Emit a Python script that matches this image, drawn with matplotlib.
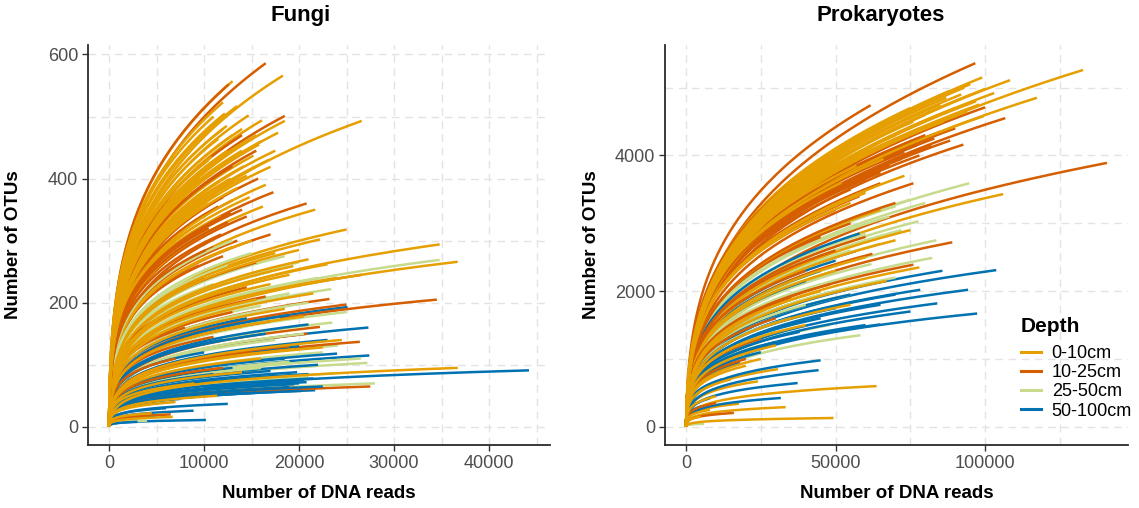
import matplotlib

matplotlib.use("Agg")
import matplotlib.pyplot as plt
import numpy as np
from matplotlib.lines import Line2D

plt.rcParams["font.family"] = ["Liberation Sans", "DejaVu Sans"]

DEPTHS = ["0-10cm", "10-25cm", "25-50cm", "50-100cm"]
COLORS = ["#E69F00", "#D55E00", "#C7DB8D", "#0072B2"]

# Fungi: end point of every rarefaction curve (reads, OTUs), read per depth
fungi_0_10_reads = [18300, 13000, 14700, 18500, 26600, 16100, 17800, 15200, 17000, 16200,
                    21700, 25000, 22200, 34800, 36700, 19400, 12000, 13500, 11500, 14000,
                    15500, 12500, 13800, 14200, 16800, 11000, 12800, 13500, 14800, 10500,
                    11800, 16500, 15000, 13000, 17500, 20000, 21000, 23000, 19000, 24000,
                    17000, 21500, 15500, 18500, 20500, 24500, 22500, 19500, 16000, 11400,
                    6700, 4500, 36700, 9000, 14000, 7000, 12200, 15800, 10800, 13200,
                    11200, 9800, 14500, 12400, 11000, 12000, 13000, 14000, 10500, 9500,
                    16000, 17500]
fungi_0_10_otus = [566, 557, 502, 493, 493, 494, 474, 437, 419, 355,
                   350, 318, 302, 294, 266, 259, 523, 517, 464, 480,
                   470, 445, 455, 420, 430, 410, 400, 385, 370, 360,
                   340, 390, 300, 290, 280, 285, 270, 262, 245, 240,
                   230, 215, 205, 190, 178, 140, 128, 125, 110, 50,
                   16, 22, 95, 70, 88, 40, 505, 455, 435, 395,
                   375, 330, 405, 485, 500, 480, 470, 445, 430, 400,
                   460, 445]
fungi_10_25_reads = [16500, 12600, 18500, 15700, 17300, 20800, 14500, 17000, 26600, 34500,
                     23200, 25000, 22200, 20900, 26400, 27500, 12000, 13000, 11500, 14000,
                     12500, 10500, 13500, 11000, 12000, 15500, 9500, 10000, 14500, 16500,
                     9000, 13000, 17000, 8000, 11000, 19000, 15000, 7000, 12000, 19800,
                     6500, 15500, 14000, 13000, 11800, 10200, 12800]
fungi_10_25_otus = [586, 552, 501, 400, 378, 360, 339, 310, 245, 205,
                    206, 197, 161, 150, 137, 65, 370, 365, 355, 350,
                    330, 320, 300, 290, 275, 265, 260, 240, 225, 210,
                    200, 185, 170, 160, 145, 130, 120, 110, 95, 63,
                    20, 445, 470, 420, 310, 285, 345]
fungi_25_50_reads = [34800, 18500, 23400, 24100, 27200, 23600, 20000, 17000, 22000, 15000,
                     19000, 21000, 16000, 25000, 18000, 23500, 14000, 20500, 17500, 22500,
                     12000, 19000, 26500, 16000, 21000, 13500, 10000, 28000, 8000, 6000,
                     4000, 12500, 11000, 13000, 15000]
fungi_25_50_otus = [269, 275, 222, 131, 103, 86, 265, 250, 240, 235,
                    215, 200, 195, 185, 175, 168, 160, 150, 140, 120,
                    115, 105, 110, 95, 80, 75, 65, 70, 50, 20,
                    10, 260, 230, 300, 280]
fungi_50_100_reads = [25100, 27300, 27400, 44200, 21700, 12500, 10200, 8900, 20000, 20500,
                      19500, 18000, 17500, 16000, 19000, 21000, 15000, 14000, 17000, 22000,
                      24000, 18500, 13000, 20000, 23000, 16500, 21000, 14500, 19000, 12000,
                      10000, 11000, 9000, 7500, 6000, 3000, 5000, 20800, 19000, 18200,
                      21500, 16500, 20300, 15500, 22500, 17800, 19800]
fungi_50_100_otus = [193, 160, 115, 91, 59, 37, 11, 26, 70, 75,
                     68, 66, 62, 60, 80, 85, 72, 57, 90, 100,
                     118, 110, 95, 130, 140, 150, 165, 175, 180, 140,
                     120, 85, 50, 45, 30, 8, 18, 72, 64, 70,
                     78, 67, 58, 55, 65, 82, 88]

# Prokaryotes
prok_0_10_reads = [132700, 99000, 108300, 117300, 106000, 63700, 30700, 24000, 33300, 17700,
                   49300, 95000, 100000, 92000, 88000, 103000, 97000, 85000, 90000, 80000,
                   94000, 75000, 82000, 78000, 70000, 86000, 99500, 60000, 55000, 65000,
                   75000, 70000, 60000, 50000, 67000, 45000, 55000, 40000, 30000, 25000,
                   20000, 15000, 10000, 8000, 5000, 78000, 73000, 66000, 84000, 91000,
                   87000, 93000, 80000, 76000, 70000, 82000, 98000, 68000, 62000, 57000,
                   52000]
prok_0_10_otus = [5260, 5150, 5110, 4850, 3430, 600, 850, 670, 290, 340,
                  130, 5050, 4980, 4900, 4950, 4920, 4800, 4750, 4700, 4750,
                  4650, 4700, 4550, 4400, 4450, 4500, 4580, 3450, 3300, 3200,
                  2900, 2750, 2500, 2300, 2150, 2000, 1800, 1500, 1200, 1000,
                  900, 700, 450, 250, 150, 2350, 3700, 3950, 4850, 4600,
                  4850, 5000, 4600, 4500, 4300, 4700, 4750, 4200, 4100, 3850,
                  3600]
prok_10_25_reads = [96700, 106700, 100000, 92700, 88300, 61700, 140700, 76000, 65000, 89000,
                    62300, 76000, 16000, 80000, 75000, 70000, 85000, 78000, 72000, 68000,
                    82000, 90000, 65000, 60000, 55000, 58000, 50000, 55000, 45000, 60000,
                    50000, 40000, 48000, 35000, 30000, 25000, 20000, 10000, 70000, 65000,
                    83000, 77000, 73000, 66000]
prok_10_25_otus = [5360, 4550, 4710, 4160, 4220, 4740, 3890, 3590, 3590, 2720,
                   2550, 2390, 205, 4300, 4200, 4100, 4350, 4000, 3950, 3850,
                   4150, 4400, 3750, 3650, 3500, 3400, 3200, 3000, 2800, 2800,
                   2600, 2300, 2100, 1900, 1600, 1300, 1000, 350, 3300, 4400,
                   4250, 4150, 4050, 3950]
prok_25_50_reads = [94700, 77700, 83700, 82300, 58300, 6000, 75000, 70000, 80000, 68000,
                    72000, 60000, 65000, 55000, 62000, 50000, 45000, 55000, 40000, 35000,
                    48000, 30000, 25000, 20000, 15000, 70000]
prok_25_50_otus = [3590, 3030, 2750, 2490, 1350, 45, 3350, 3250, 3300, 3100,
                   2900, 2850, 2700, 2600, 2400, 2300, 2100, 1950, 1800, 1600,
                   1500, 1400, 1200, 1050, 900, 2200]
prok_50_100_reads = [103700, 85700, 94300, 84000, 97300, 78300, 65000, 56700, 45000, 44300,
                     37300, 31700, 58000, 50000, 45000, 40000, 60000, 55000, 70000, 65000,
                     50000, 75000, 45000, 60000, 38000, 30000, 25000, 18000, 12000, 8000,
                     5000]
prok_50_100_otus = [2310, 2300, 2020, 1820, 1670, 2020, 1510, 2590, 980, 835,
                    645, 425, 2850, 2450, 2300, 2150, 2100, 1950, 1950, 1800,
                    1750, 1700, 1600, 1500, 1400, 1250, 1100, 950, 700, 420,
                    300]

GRID_KW = dict(color="#E3E3E3", linewidth=1.0, linestyle=(0, (5.5, 4)), zorder=0)
W, H = 1139, 508


def rarefaction(reads_end, otus_end, p, eps):
    """Saturating rarefaction shape from (0, 0) up to the read end point."""
    t = np.concatenate([[0.0], np.geomspace(1e-5, 1.0, 240)])
    f = ((t + eps) ** p - eps ** p) / ((1 + eps) ** p - eps ** p)
    return reads_end * t, otus_end * f


def draw_panel(ax, groups, p_low, p_span, otus_top, eps, xticks, yticks):
    # 交替绘制各深度的曲线
    longest = max(len(r) for r, _ in groups)
    for i in range(longest):
        for k, (reads, otus) in enumerate(groups):
            if i < len(reads):
                p = p_low + p_span * otus[i] / otus_top
                x, y = rarefaction(reads[i], otus[i], p, eps)
                ax.plot(x, y, color=COLORS[k], linewidth=1.8, solid_capstyle="butt", zorder=2)

    all_reads = [v for r, _ in groups for v in r]
    all_otus = [v for _, o in groups for v in o]
    xmax, ymax = max(all_reads), max(all_otus)
    ax.set_xlim(-0.05 * xmax, 1.05 * xmax)
    ax.set_ylim(-0.05 * ymax, 1.05 * ymax)

    ax.set_xticks(xticks)
    ax.set_yticks(yticks)
    xminor = [(a + b) / 2 for a, b in zip(xticks[:-1], xticks[1:])] + [xticks[-1] + (xticks[1] - xticks[0]) / 2]
    yminor = [(a + b) / 2 for a, b in zip(yticks[:-1], yticks[1:])] + [yticks[-1] + (yticks[1] - yticks[0]) / 2]
    for v in list(xticks) + xminor:
        ax.axvline(v, **GRID_KW)
    for v in list(yticks) + yminor:
        ax.axhline(v, **GRID_KW)

    for side in ("top", "right"):
        ax.spines[side].set_visible(False)
    for side in ("left", "bottom"):
        ax.spines[side].set_color("#2B2B2B")
        ax.spines[side].set_linewidth(1.3)
    ax.tick_params(axis="both", length=4, width=1.0, color="#333333", labelsize=13,
                   labelcolor="#4D4D4D", pad=3)


def label_panel(fig, left, right, title, title_x, ylab_x):
    cx = (left + right) / 2
    fig.text(cx / W, 1 - 494 / H, "Number of DNA reads", fontsize=13.5, fontweight="bold",
             ha="center", va="center")
    fig.text(ylab_x / W, 1 - 245 / H, "Number of OTUs", fontsize=13.5, fontweight="bold",
             ha="center", va="center", rotation=90)
    fig.text(title_x / W, 1 - 16 / H, title, fontsize=16, fontweight="bold",
             ha="center", va="center")


def main():
    fig = plt.figure(figsize=(W / 100, H / 100), dpi=100)
    ax1 = fig.add_axes([88 / W, 1 - 445 / H, 462 / W, 400 / H])
    ax2 = fig.add_axes([665 / W, 1 - 445 / H, 463 / W, 400 / H])

    fungi_groups = [(fungi_0_10_reads, fungi_0_10_otus), (fungi_10_25_reads, fungi_10_25_otus),
                    (fungi_25_50_reads, fungi_25_50_otus), (fungi_50_100_reads, fungi_50_100_otus)]
    prok_groups = [(prok_0_10_reads, prok_0_10_otus), (prok_10_25_reads, prok_10_25_otus),
                   (prok_25_50_reads, prok_25_50_otus), (prok_50_100_reads, prok_50_100_otus)]

    draw_panel(ax1, fungi_groups, 0.09, 0.17, 600, 0.0015, [0, 10000, 20000, 30000, 40000],
               [0, 200, 400, 600])
    draw_panel(ax2, prok_groups, 0.12, 0.18, 5400, 0.0015, [0, 50000, 100000],
               [0, 2000, 4000])
    label_panel(fig, 88, 550, "Fungi", 301, 14)
    label_panel(fig, 665, 1128, "Prokaryotes", 881, 591)

    # 图例：标题单独放置
    fig.text(1021 / W, 1 - 327 / H, "Depth", fontsize=15, fontweight="bold",
             ha="left", va="center")
    handles = [Line2D([0], [0], color=c, linewidth=2.2) for c in COLORS]
    fig.legend(handles, DEPTHS, loc="upper left",
               bbox_to_anchor=(1021 / W, 1 - 345 / H),
               frameon=False, borderpad=0, borderaxespad=0, handlelength=1.1,
               handletextpad=0.6, labelspacing=0.12, fontsize=13)

    fig.savefig("out.png", dpi=100)
    plt.close(fig)


if __name__ == "__main__":
    main()
